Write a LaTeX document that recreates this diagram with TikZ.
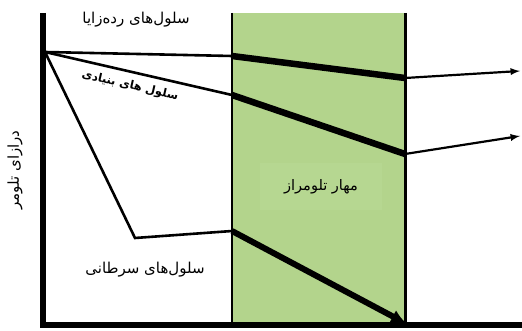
\documentclass[tikz,border=0pt]{standalone}
\usepackage{fontspec}
\usetikzlibrary{arrows.meta}
\newfontfamily\arabicfont[Script=Arabic]{DejaVu Sans}
\TeXXeTstate=1
\definecolor{telgreen}{RGB}{179,212,140}
\definecolor{boxgreen}{RGB}{182,215,145}

\begin{document}
\begin{tikzpicture}[x=1pt,y=-1pt]
\useasboundingbox (0,0) rectangle (522,331);
\fill [telgreen] (232,13) rectangle (405,325);
\coordinate (Top) at (43,13);
\coordinate (Orig) at (43,328);
\coordinate (End) at (522,325);
\coordinate (O) at (45,52);
\coordinate (G1) at (232,56);
\coordinate (G2) at (405,78);
\coordinate (G3) at (520,71);
\coordinate (S1) at (232,95);
\coordinate (S2) at (405,154);
\coordinate (S3) at (520,136);
\coordinate (C1) at (135,238);
\coordinate (C2) at (232,231);
\coordinate (C3) at (407,324);
\node [fill=boxgreen, minimum width=122pt, minimum height=47pt] (Inh) at (321,187) {\arabicfont\fontsize{14.5}{16}\selectfont\beginR مهار تلومراز\endR};
\draw [line width=2pt] (232,13) -- (232,325);
\draw [line width=3pt] (405,13) -- (405,325);
\draw [line width=6pt] (Top) -- (Orig);
\draw [line width=6pt] (40,325) -- (End);
\draw [line width=2.6pt] (O) -- (G1);
\draw [line width=6.5pt] (G1) -- (G2);
\draw [-latex, line width=2.2pt] (G2) -- (G3);
\draw [line width=2.6pt] (O) -- (S1);
\draw [line width=6.5pt] (S1) -- (S2);
\draw [-latex, line width=2.2pt] (S2) -- (S3);
\draw [line width=2.6pt] (O) -- (C1) -- (C2);
\draw [-{Latex[length=16pt,width=14pt]}, line width=6pt] (C2) -- (C3);
\node (Germ) at (136,20) {\arabicfont\fontsize{15}{17}\selectfont\beginR سلول‌های رده‌زایا\endR};
\node [rotate=-13] (Stem) at (130,86) {\arabicfont\bfseries\fontsize{11.5}{14}\selectfont\beginR سلول های بنیادی\endR};
\node [rotate=90] (Len) at (15,170) {\arabicfont\fontsize{15}{17}\selectfont\beginR درازای تلومر\endR};
\node (Canc) at (145,270) {\arabicfont\fontsize{15}{17}\selectfont\beginR سلول‌های سرطانی\endR};
\end{tikzpicture}
\end{document}
